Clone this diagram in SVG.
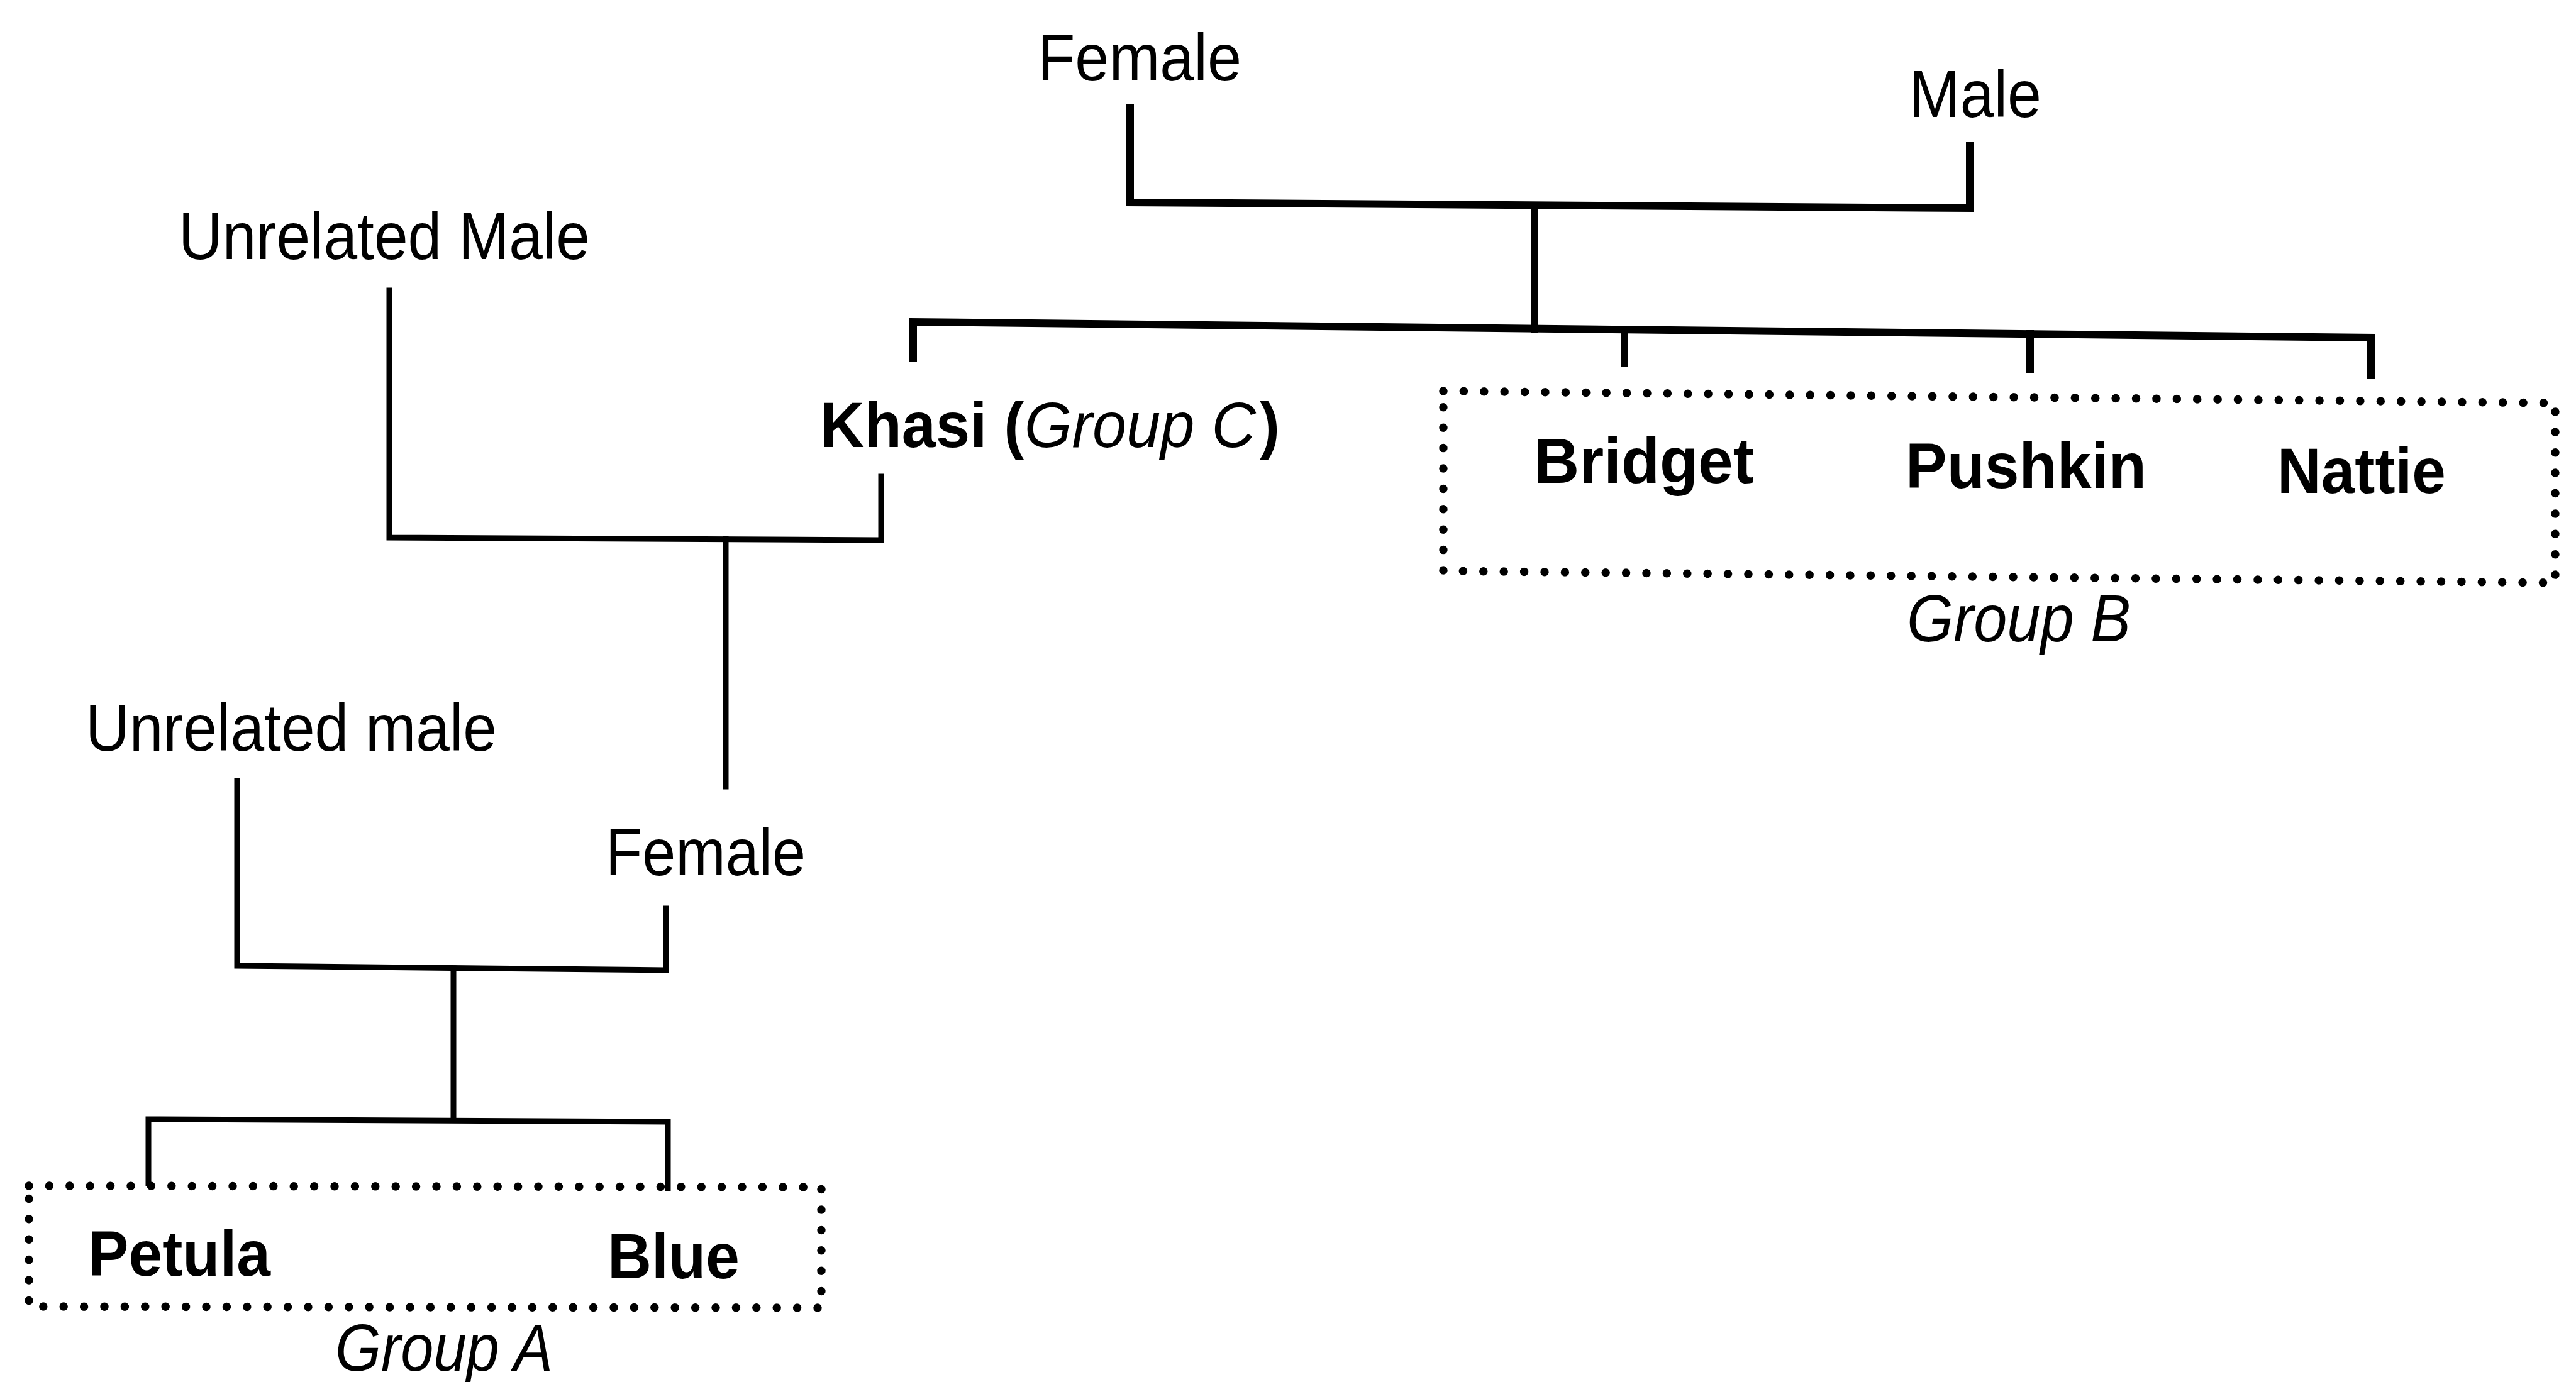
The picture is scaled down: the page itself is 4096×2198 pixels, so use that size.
<svg xmlns="http://www.w3.org/2000/svg" width="4096" height="2198" viewBox="0 0 4096 2198">
  <style>
    text { font-family: "Liberation Sans", Arial, sans-serif; fill: #000; }
    .reg { font-size: 105px; }
    .bold { font-size: 102px; font-weight: bold; }
    .ital { font-size: 105px; font-style: italic; }
    .line { fill: none; stroke: #000; stroke-linecap: square; }
    .thick { stroke-width: 12; }
    .thin { stroke-width: 9; }
    .dots { fill: none; stroke: #000; stroke-width: 13.5; stroke-linecap: round; stroke-linejoin: round; stroke-dasharray: 0 32.4; }
  </style>
  <rect x="0" y="0" width="4096" height="2198" fill="#fff"/>

  <!-- family-tree connectors -->
  <g id="connectors">
    <!-- founding pair -->
    <path class="line thick" d="M1797 172 V322 L3132 331 V232"/>
    <path class="line thick" d="M2440 327 V524"/>
    <!-- sibling bar with drops -->
    <path class="line thick" d="M1452 569 V512 L3770 537 V597"/>
    <path class="line thick" d="M2583 524 V578"/>
    <path class="line thick" d="M3228 531 V588"/>
    <!-- Khasi pairing -->
    <path class="line thin" d="M619 462 V855 L1401 859 V758"/>
    <path class="line thin" d="M1154 857 V1251"/>
    <!-- next pairing -->
    <path class="line thin" d="M377 1242 V1536 L1059 1543 V1445"/>
    <path class="line thin" d="M721 1540 V1780"/>
    <!-- offspring bar -->
    <path class="line thin" d="M236 1882 V1780 L1062 1784 V1890"/>
  </g>

  <!-- generation 1 -->
  <g id="node-female-top">
    <text class="reg" x="1650" y="128" textLength="324" lengthAdjust="spacingAndGlyphs">Female</text>
  </g>
  <g id="node-male-top">
    <text class="reg" x="3036" y="186" textLength="210" lengthAdjust="spacingAndGlyphs">Male</text>
  </g>

  <!-- generation 2 -->
  <g id="node-unrelated-male-1">
    <text class="reg" x="284" y="412" textLength="654" lengthAdjust="spacingAndGlyphs">Unrelated Male</text>
  </g>
  <g id="node-khasi" transform="translate(1304 711) scale(0.955 1)">
    <text class="bold" x="0" y="0">Khasi (<tspan font-style="italic" font-weight="normal">Group C</tspan><tspan dx="6">)</tspan></text>
  </g>
  <g id="group-b">
    <path class="dots" d="M2295 622 L4063 641 L4063 927 L2295 908 Z"/>
    <text class="ital" x="3032" y="1020" textLength="356" lengthAdjust="spacingAndGlyphs">Group B</text>
  </g>
  <g id="node-bridget">
    <text class="bold" x="2439" y="768" textLength="350" lengthAdjust="spacingAndGlyphs">Bridget</text>
  </g>
  <g id="node-pushkin">
    <text class="bold" x="3030" y="776" textLength="383" lengthAdjust="spacingAndGlyphs">Pushkin</text>
  </g>
  <g id="node-nattie">
    <text class="bold" x="3621" y="784" textLength="268" lengthAdjust="spacingAndGlyphs">Nattie</text>
  </g>

  <!-- generation 3 -->
  <g id="node-unrelated-male-2">
    <text class="reg" x="136" y="1194" textLength="654" lengthAdjust="spacingAndGlyphs">Unrelated male</text>
  </g>
  <g id="node-female-lower">
    <text class="reg" x="963" y="1392" textLength="318" lengthAdjust="spacingAndGlyphs">Female</text>
  </g>

  <!-- generation 4 -->
  <g id="group-a">
    <path class="dots" d="M46 1886 L1306 1888 L1306 2080 L46 2078 Z"/>
    <text class="ital" x="533" y="2180" textLength="346" lengthAdjust="spacingAndGlyphs">Group A</text>
  </g>
  <g id="node-petula">
    <text class="bold" x="140" y="2029" textLength="290" lengthAdjust="spacingAndGlyphs">Petula</text>
  </g>
  <g id="node-blue">
    <text class="bold" x="966" y="2033" textLength="210" lengthAdjust="spacingAndGlyphs">Blue</text>
  </g>
</svg>
